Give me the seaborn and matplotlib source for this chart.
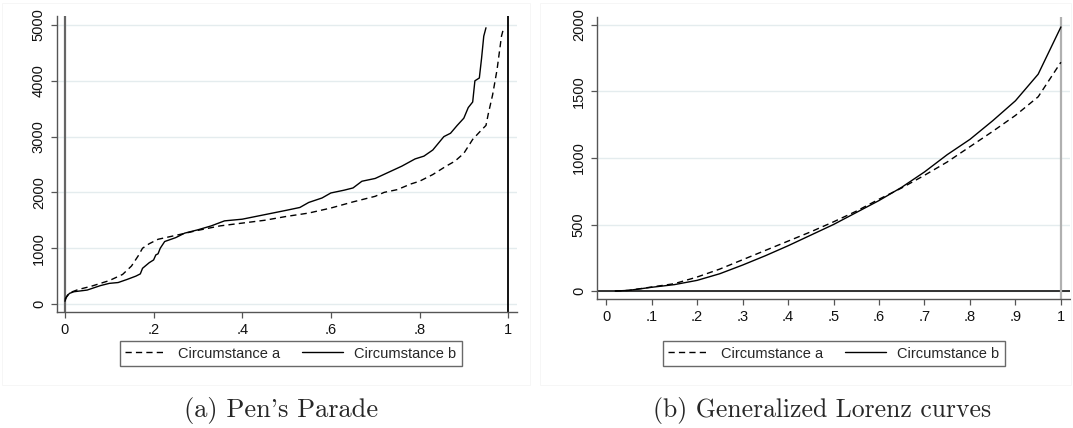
import numpy as np
import pandas as pd
import matplotlib.pyplot as plt
import seaborn as sns
from matplotlib.lines import Line2D
from matplotlib.patches import Rectangle

# (a) Pen's Parade: quantile curves
pen_a_x = [0.0, 0.005, 0.01, 0.03, 0.06, 0.10, 0.13, 0.15, 0.165, 0.175, 0.19, 0.21, 0.25,
           0.30, 0.35, 0.40, 0.45, 0.50, 0.55, 0.60, 0.65, 0.70, 0.72, 0.75, 0.78, 0.80,
           0.83, 0.86, 0.88, 0.90, 0.92, 0.94, 0.95, 0.955, 0.965, 0.975, 0.98, 0.985, 0.99]
pen_a_y = [80, 150, 200, 260, 320, 420, 530, 680, 860, 1000, 1080, 1160, 1230,
           1320, 1400, 1450, 1500, 1570, 1630, 1720, 1830, 1930, 2000, 2050, 2150, 2200,
           2320, 2470, 2560, 2700, 2950, 3120, 3200, 3400, 3750, 4200, 4500, 4800, 4950]
pen_b_x = [0.0, 0.003, 0.01, 0.02, 0.05, 0.08, 0.10, 0.12, 0.14, 0.16, 0.17, 0.175, 0.19,
           0.20, 0.205, 0.21, 0.215, 0.225, 0.25, 0.27, 0.30, 0.33, 0.36, 0.40, 0.45, 0.50,
           0.53, 0.55, 0.58, 0.60, 0.63, 0.65, 0.67, 0.70, 0.73, 0.76, 0.79, 0.81, 0.83,
           0.855, 0.87, 0.885, 0.90, 0.91, 0.92, 0.925, 0.935, 0.94, 0.945, 0.95]
pen_b_y = [50, 120, 190, 220, 250, 330, 370, 385, 440, 500, 540, 640, 740,
           790, 880, 900, 1000, 1120, 1190, 1270, 1330, 1400, 1490, 1520, 1600, 1680,
           1730, 1820, 1900, 1990, 2040, 2080, 2200, 2250, 2360, 2470, 2600, 2650, 2760,
           3000, 3060, 3200, 3330, 3520, 3620, 4000, 4050, 4400, 4800, 4950]

# (b) Generalized Lorenz curves
gl_x = [0.02, 0.05, 0.10, 0.15, 0.20, 0.25, 0.30, 0.35, 0.40, 0.45, 0.50,
        0.55, 0.60, 0.65, 0.70, 0.75, 0.80, 0.85, 0.90, 0.95, 1.00]
gl_a = [0, 5, 30, 55, 105, 165, 235, 305, 375, 445, 520,
        600, 690, 775, 870, 970, 1085, 1200, 1320, 1460, 1720]
gl_b = [0, 5, 28, 48, 80, 130, 195, 265, 340, 420, 500,
        590, 680, 780, 895, 1025, 1140, 1280, 1430, 1630, 1985]

labels = ['Circumstance a', 'Circumstance b']
dash_a = (4.5, 3)

pen = pd.concat([
    pd.DataFrame({'p': pen_a_x, 'y': pen_a_y, 'circ': labels[0]}),
    pd.DataFrame({'p': pen_b_x, 'y': pen_b_y, 'circ': labels[1]}),
])
gl = pd.concat([
    pd.DataFrame({'p': gl_x, 'y': gl_a, 'circ': labels[0]}),
    pd.DataFrame({'p': gl_x, 'y': gl_b, 'circ': labels[1]}),
])

sns.set_theme(style='white')
plt.rcParams['font.family'] = ['Liberation Sans', 'DejaVu Sans']

fig = plt.figure(figsize=(10.73, 4.28), dpi=100)
W, H = 1073, 428

def px_axes(x0, x1, ytop, ybot):
    return fig.add_axes([x0 / W, 1 - ybot / H, (x1 - x0) / W, (ybot - ytop) / H])

# faint panel frames
for rx0, rx1 in [(2, 530), (540, 1071)]:
    fig.patches.append(Rectangle((rx0 / W, 1 - 385 / H), (rx1 - rx0) / W, 382 / H,
                                 transform=fig.transFigure, fill=False,
                                 ec='#f6f6f6', lw=0.7))

ax1 = px_axes(57, 517, 16, 312)
ax2 = px_axes(597, 1070, 17, 299)

dashes = {labels[0]: dash_a, labels[1]: ''}
sns.lineplot(data=pen, x='p', y='y', style='circ', dashes=dashes, color='black',
             lw=1.0, estimator=None, sort=False, legend=False, ax=ax1)
sns.lineplot(data=gl, x='p', y='y', style='circ', dashes=dashes, color='black',
             lw=1.0, estimator=None, sort=False, legend=False, ax=ax2)

ax1.set_xlim(-0.018, 1.020)
ax1.set_ylim(-143, 5161)
ax1.set_xticks([0, 0.2, 0.4, 0.6, 0.8, 1])
ax1.set_xticklabels(['0', '.2', '.4', '.6', '.8', '1'])
ax1.set_yticks([0, 1000, 2000, 3000, 4000, 5000])
ax1.axvline(0, color='#666666', lw=1.6, zorder=1)
ax1.axvline(1, color='black', lw=1.3, zorder=1)

ax2.set_xlim(-0.02, 1.02)
ax2.set_ylim(-60, 2060)
ax2.set_xticks(np.round(np.arange(0, 1.01, 0.1), 1))
ax2.set_xticklabels(['0', '.1', '.2', '.3', '.4', '.5', '.6', '.7', '.8', '.9', '1'])
ax2.set_yticks([0, 500, 1000, 1500, 2000])
ax2.axhline(0, color='#222222', lw=1.3, zorder=1)
ax2.axvline(1, color='#b0b0b0', lw=1.6, zorder=1)

for ax in (ax1, ax2):
    ax.set_xlabel('')
    ax.set_ylabel('')
    ax.grid(axis='y', color='#e4ecee', lw=1.0)
    ax.set_axisbelow(True)
    for s in ('top', 'right'):
        ax.spines[s].set_visible(False)
    for s in ('left', 'bottom'):
        ax.spines[s].set_color('#555555')
        ax.spines[s].set_linewidth(1.0)
    ax.tick_params(axis='both', which='major', direction='out', length=4, width=0.9,
                   color='#555555', labelsize=10.5, labelcolor='#111111',
                   left=True, bottom=True, pad=4)
    for t in ax.get_yticklabels():
        t.set_rotation(90)
        t.set_va('center')

handles = [Line2D([], [], color='black', lw=1.0, dashes=dash_a),
           Line2D([], [], color='black', lw=1.0)]
for cx in (291, 834):
    leg = fig.legend(handles, labels, loc='center', ncol=2,
                     bbox_to_anchor=(cx / W, 1 - 353.5 / H), frameon=True,
                     fancybox=False, edgecolor='#444444', fontsize=10.5,
                     handlelength=2.8, handletextpad=0.8, columnspacing=1.5,
                     borderpad=0.4, borderaxespad=0)
    leg.get_frame().set_linewidth(1.0)

fig.text(281 / W, 1 - 410 / H, "(a) Pen's Parade", ha='center', va='center',
         family='cmr10', fontsize=19)
fig.text(822 / W, 1 - 410 / H, '(b) Generalized Lorenz curves', ha='center',
         va='center', family='cmr10', fontsize=18.5)

fig.savefig('out.png', dpi=100)
